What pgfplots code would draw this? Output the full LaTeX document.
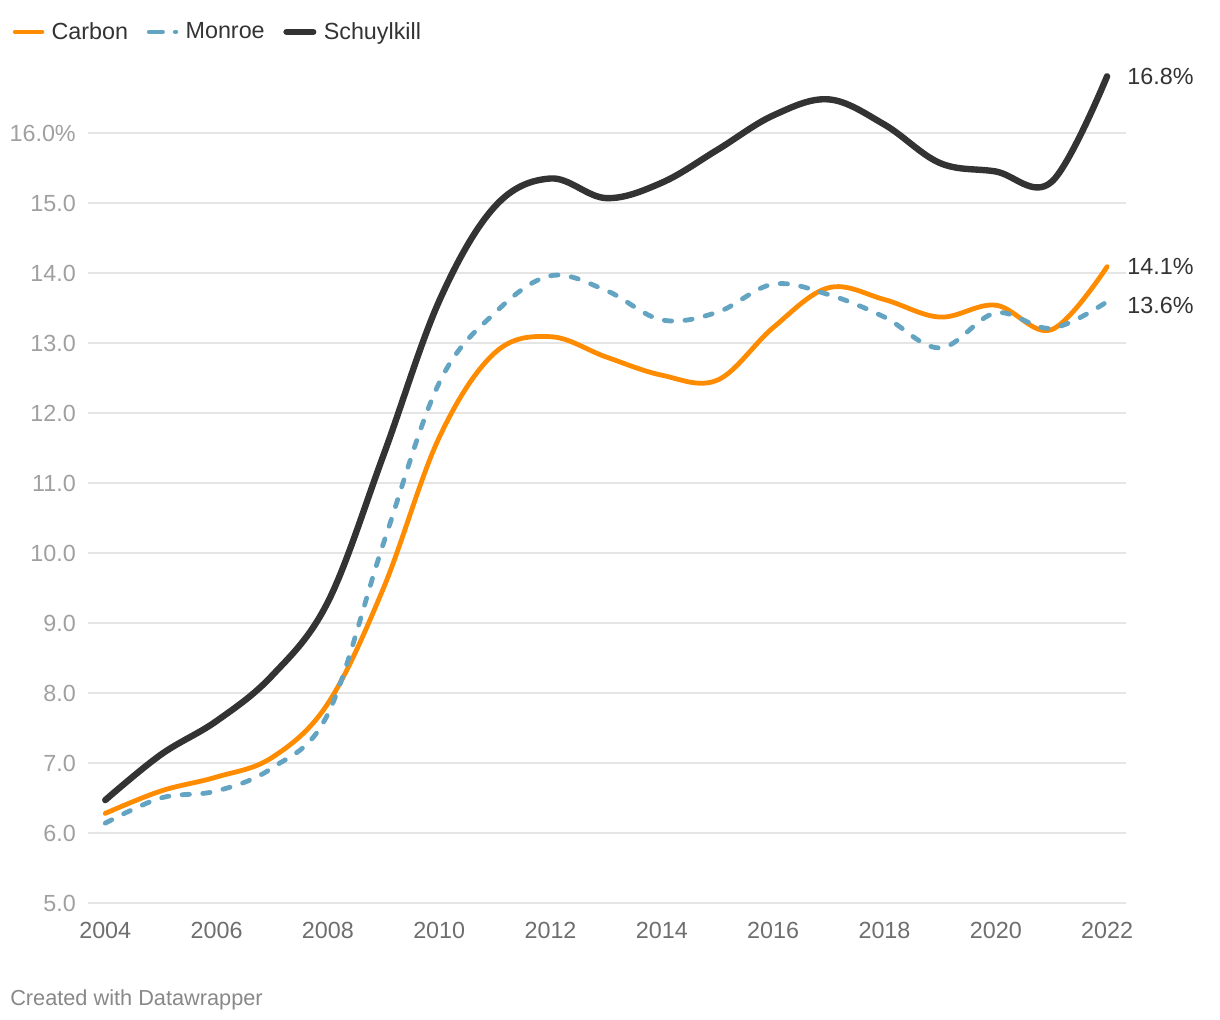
\documentclass[border=0pt]{standalone}
\usepackage{pgfplots}
\pgfplotsset{compat=1.18}
\usepackage{fontspec}
\setmainfont{Liberation Sans}

\definecolor{carbon}{HTML}{FF8C00}
\definecolor{monroe}{HTML}{64A4C3}
\definecolor{schuyl}{HTML}{333333}
\definecolor{gridc}{HTML}{E5E5E5}
\definecolor{ylab}{HTML}{A0A0A0}
\definecolor{xlab}{HTML}{6E6E6E}
\definecolor{credit}{HTML}{888888}

% dash + dot sample for the dashed series
\pgfplotsset{monroe legend/.style={
  legend image code/.code={\draw[##1, dash pattern=on 10pt off 9.5pt] (0pt,0pt) -- (20pt,0pt);}}}

\begin{document}
\begin{tikzpicture}
% picture = 1220x1020 px, 1px = 0.75pt, plot box lower left at (0,0)
\useasboundingbox (-66pt,-87.75pt) rectangle (849pt,677.25pt);
\begin{axis}[
  scale only axis,
  width=778.5pt, height=630pt,
  xmin=2003.69, xmax=2022.34,
  ymin=5, ymax=17,
  clip=false,
  axis line style={draw=none},
  tick style={draw=none},
  ymajorgrids,
  major grid style={gridc, line width=1.1pt},
  xtick={2004,2006,...,2022},
  xticklabels={2004,2006,2008,2010,2012,2014,2016,2018,2020,2022},
  ytick={5,6,...,16},
  yticklabels={5.0,6.0,7.0,8.0,9.0,10.0,11.0,12.0,13.0,14.0,15.0,16.0\%},
  ticklabel style={font=\fontsize{17.5}{20}\selectfont},
  xticklabel style={text=xlab, inner sep=0pt, anchor=north, yshift=-14pt},
  yticklabel style={text=ylab, inner sep=0pt, anchor=east, xshift=-9pt},
  legend columns=3,
  legend image code/.code={\draw[#1] (0pt,0pt) -- (20pt,0pt);},
  legend style={
    at={(axis description cs:-0.0727,1.037)}, anchor=west,
    draw=none, fill=none, inner sep=0pt,
    font=\fontsize{17.5}{20}\selectfont, text=schuyl,
    column sep=5.5pt,
    /tikz/every even column/.append style={column sep=14pt},
    nodes={inner sep=0pt},
  },
  every axis plot/.append style={smooth, tension=0.6, line cap=round},
]
\addplot[carbon, line width=3.6pt] coordinates {
  (2004,6.28) (2005,6.60) (2006,6.80) (2007,7.08) (2008,7.85)
  (2009,9.50) (2010,11.65) (2011,12.86) (2012,13.09) (2013,12.80)
  (2014,12.54) (2015,12.47) (2016,13.22) (2017,13.79) (2018,13.62)
  (2019,13.37) (2020,13.54) (2021,13.19) (2022,14.09)
};
\addlegendentry{Carbon}

\addplot[monroe, line width=3.6pt, dash pattern=on 5.5pt off 10pt, monroe legend]
  coordinates {
  (2004,6.14) (2005,6.50) (2006,6.60) (2007,6.93) (2008,7.70)
  (2009,10.14) (2010,12.43) (2011,13.43) (2012,13.96) (2013,13.75)
  (2014,13.33) (2015,13.44) (2016,13.84) (2017,13.69) (2018,13.37)
  (2019,12.93) (2020,13.43) (2021,13.21) (2022,13.59)
};
\addlegendentry{Monroe}

\addplot[schuyl, line width=4.8pt] coordinates {
  (2004,6.47) (2005,7.12) (2006,7.60) (2007,8.25) (2008,9.30)
  (2009,11.40) (2010,13.60) (2011,14.95) (2012,15.35) (2013,15.07)
  (2014,15.29) (2015,15.76) (2016,16.25) (2017,16.48) (2018,16.12)
  (2019,15.57) (2020,15.45) (2021,15.30) (2022,16.81)
};
\addlegendentry{Schuylkill}

\node[anchor=west, inner sep=0pt, xshift=15pt, text=schuyl,
  font=\fontsize{17.5}{20}\selectfont] at (axis cs:2022,16.81) {16.8\%};
\node[anchor=west, inner sep=0pt, xshift=15pt, text=schuyl,
  font=\fontsize{17.5}{20}\selectfont] at (axis cs:2022,14.09) {14.1\%};
\node[anchor=west, inner sep=0pt, xshift=15pt, yshift=-3pt, text=schuyl,
  font=\fontsize{17.5}{20}\selectfont] at (axis cs:2022,13.59) {13.6\%};
\end{axis}
\node[anchor=base west, inner sep=0pt, text=credit,
  font=\fontsize{16.3}{18}\selectfont] at (-58.5pt,-76.5pt) {Created with Datawrapper};
\end{tikzpicture}
\end{document}
